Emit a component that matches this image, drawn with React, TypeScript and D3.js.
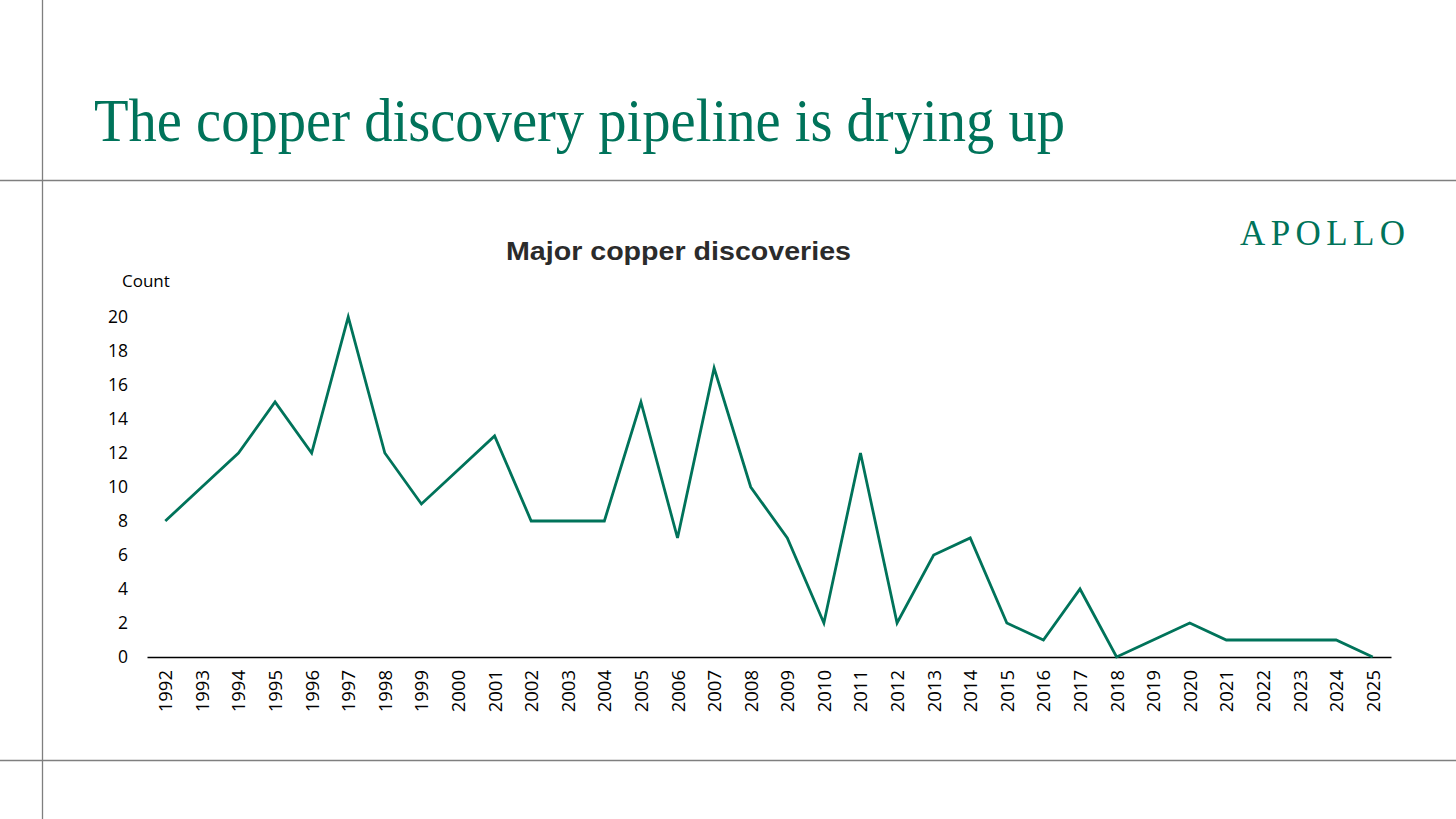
import { useEffect, useRef } from "react";
import * as d3 from "d3";

const years = [
  "1992", "1993", "1994", "1995", "1996", "1997", "1998", "1999", "2000",
  "2001", "2002", "2003", "2004", "2005", "2006", "2007", "2008", "2009",
  "2010", "2011", "2012", "2013", "2014", "2015", "2016", "2017", "2018",
  "2019", "2020", "2021", "2022", "2023", "2024", "2025",
];
const discoveries = [
  8, 10, 12, 15, 12, 20, 12, 9, 11, 13, 8, 8, 8, 15, 7, 17, 10, 7, 2, 12, 2, 6,
  7, 2, 1, 4, 0, 1, 2, 1, 1, 1, 1, 0,
];
const yTicks = [0, 2, 4, 6, 8, 10, 12, 14, 16, 18, 20];

const GREEN = "#00735a";

const App = () => {
  const chartRef = useRef<SVGSVGElement>(null);

  useEffect(() => {
    if (!chartRef.current) return;
    const width = 1456;
    const height = 819;
    const margin = { top: 317, right: 65, bottom: 162, left: 147 };

    const svg = d3.select(chartRef.current);
    svg.selectAll("*").remove();

    // frame lines
    const frame = svg.append("g").attr("stroke", "#7f7f7f").attr("stroke-width", 1.3);
    frame.append("line").attr("x1", 42.5).attr("x2", 42.5).attr("y1", 0).attr("y2", height);
    frame.append("line").attr("x1", 0).attr("x2", width).attr("y1", 180.5).attr("y2", 180.5);
    frame.append("line").attr("x1", 0).attr("x2", width).attr("y1", 760.5).attr("y2", 760.5);

    // page title
    svg
      .append("text")
      .attr("x", 94)
      .attr("y", 141)
      .attr("fill", GREEN)
      .style("font-family", "'Liberation Serif', serif")
      .style("font-size", "61px")
      .attr("textLength", 971)
      .attr("lengthAdjust", "spacingAndGlyphs")
      .text("The copper discovery pipeline is drying up");

    // logo
    svg
      .append("text")
      .attr("x", 1240)
      .attr("y", 245)
      .attr("fill", GREEN)
      .style("font-family", "'Liberation Serif', serif")
      .style("font-size", "35px")
      .attr("textLength", 165)
      .attr("lengthAdjust", "spacing")
      .text("APOLLO");

    // chart title
    svg
      .append("text")
      .attr("x", 506)
      .attr("y", 260)
      .attr("fill", "#2b2b2b")
      .style("font-family", "'Liberation Sans', Arial, sans-serif")
      .style("font-weight", "bold")
      .style("font-size", "25px")
      .attr("textLength", 345)
      .attr("lengthAdjust", "spacingAndGlyphs")
      .text("Major copper discoveries");

    const xScale = d3
      .scalePoint<string>()
      .domain(years)
      .range([margin.left, width - margin.right])
      .padding(0.5);

    const yScale = d3
      .scaleLinear()
      .domain([0, 20])
      .range([height - margin.bottom, margin.top]);

    const fontFamily = "'Open Sans', 'Noto Sans', sans-serif";

    // y axis labels
    const yAxis = svg
      .append("g")
      .attr("transform", `translate(${margin.left - 19},0)`)
      .call(d3.axisLeft(yScale).tickValues(yTicks).tickSize(0).tickPadding(0));
    yAxis.select(".domain").remove();
    yAxis
      .selectAll("text")
      .style("font-family", fontFamily)
      .style("font-size", "17.5px")
      .attr("fill", "#000");

    svg
      .append("text")
      .attr("x", 122)
      .attr("y", 287)
      .style("font-family", fontFamily)
      .style("font-size", "17px")
      .attr("fill", "#000")
      .text("Count");

    // x axis
    const xAxis = svg
      .append("g")
      .attr("transform", `translate(0,${height - margin.bottom})`)
      .call(d3.axisBottom(xScale).tickSize(0).tickPadding(0).tickSizeOuter(0));
    xAxis.select(".domain").attr("stroke", "#000").attr("stroke-width", 1.5);
    xAxis
      .selectAll("text")
      .style("font-family", fontFamily)
      .style("font-size", "18.5px")
      .attr("fill", "#000")
      .attr("text-anchor", "end")
      .attr("transform", "rotate(-90)")
      .attr("x", -13)
      .attr("y", 0)
      .attr("dy", "0.35em");

    const line = d3
      .line<number>()
      .x((_, i) => xScale(years[i]) as number)
      .y((d) => yScale(d));

    svg
      .append("path")
      .datum(discoveries)
      .attr("d", line)
      .attr("fill", "none")
      .attr("stroke", GREEN)
      .attr("stroke-width", 2.8)
      .attr("stroke-linejoin", "miter");
  }, []);

  return (
    <svg
      ref={chartRef}
      width={1456}
      height={819}
      style={{ position: "absolute", left: 0, top: 0, background: "#fff" }}
    />
  );
};

export default App;
